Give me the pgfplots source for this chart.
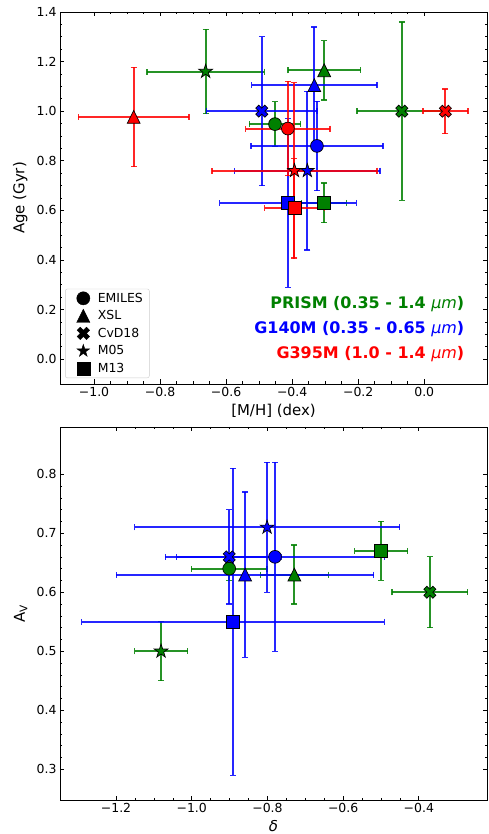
\documentclass[border=0pt]{standalone}
\usepackage{fontspec}
\setmainfont{DejaVu Sans}
\usepackage{pgfplots}
\pgfplotsset{compat=1.18}
\usetikzlibrary{plotmarks}

\definecolor{mgreen}{RGB}{0,128,0}
\definecolor{mblue}{RGB}{0,0,255}
\definecolor{mred}{RGB}{255,0,0}

% filled 5-point star
\pgfdeclareplotmark{fstar}{%
  \pgfpathmoveto{\pgfpointpolar{90}{\pgfplotmarksize}}%
  \pgfpathlineto{\pgfpointpolar{126}{0.382\pgfplotmarksize}}%
  \pgfpathlineto{\pgfpointpolar{162}{\pgfplotmarksize}}%
  \pgfpathlineto{\pgfpointpolar{198}{0.382\pgfplotmarksize}}%
  \pgfpathlineto{\pgfpointpolar{234}{\pgfplotmarksize}}%
  \pgfpathlineto{\pgfpointpolar{270}{0.382\pgfplotmarksize}}%
  \pgfpathlineto{\pgfpointpolar{306}{\pgfplotmarksize}}%
  \pgfpathlineto{\pgfpointpolar{342}{0.382\pgfplotmarksize}}%
  \pgfpathlineto{\pgfpointpolar{18}{\pgfplotmarksize}}%
  \pgfpathlineto{\pgfpointpolar{54}{0.382\pgfplotmarksize}}%
  \pgfpathclose
  \pgfusepathqfillstroke}
% filled X
\pgfdeclareplotmark{fX}{%
  \pgftransformrotate{45}%
  \pgfpathmoveto{\pgfpoint{0.333\pgfplotmarksize}{\pgfplotmarksize}}%
  \pgfpathlineto{\pgfpoint{-0.333\pgfplotmarksize}{\pgfplotmarksize}}%
  \pgfpathlineto{\pgfpoint{-0.333\pgfplotmarksize}{0.333\pgfplotmarksize}}%
  \pgfpathlineto{\pgfpoint{-\pgfplotmarksize}{0.333\pgfplotmarksize}}%
  \pgfpathlineto{\pgfpoint{-\pgfplotmarksize}{-0.333\pgfplotmarksize}}%
  \pgfpathlineto{\pgfpoint{-0.333\pgfplotmarksize}{-0.333\pgfplotmarksize}}%
  \pgfpathlineto{\pgfpoint{-0.333\pgfplotmarksize}{-\pgfplotmarksize}}%
  \pgfpathlineto{\pgfpoint{0.333\pgfplotmarksize}{-\pgfplotmarksize}}%
  \pgfpathlineto{\pgfpoint{0.333\pgfplotmarksize}{-0.333\pgfplotmarksize}}%
  \pgfpathlineto{\pgfpoint{\pgfplotmarksize}{-0.333\pgfplotmarksize}}%
  \pgfpathlineto{\pgfpoint{\pgfplotmarksize}{0.333\pgfplotmarksize}}%
  \pgfpathlineto{\pgfpoint{0.333\pgfplotmarksize}{0.333\pgfplotmarksize}}%
  \pgfpathclose
  \pgfusepathqfillstroke}
% filled triangle (matplotlib-like, bbox centred)
\pgfdeclareplotmark{ftri}{%
  \pgfpathmoveto{\pgfpoint{0pt}{\pgfplotmarksize}}%
  \pgfpathlineto{\pgfpoint{-\pgfplotmarksize}{-\pgfplotmarksize}}%
  \pgfpathlineto{\pgfpoint{\pgfplotmarksize}{-\pgfplotmarksize}}%
  \pgfpathclose
  \pgfusepathqfillstroke}

\pgfplotsset{
  set layers, mark layer=axis foreground,
  myaxis/.style={
    scale only axis,
    axis line style={line width=0.9bp},
    tick align=inside,
    major tick length=4.5bp, minor tick length=2.5bp,
    every tick/.style={black, line width=0.8bp},
    every minor tick/.append style={line width=0.6bp},
    tick label style={font=\fontsize{12.5}{15}\selectfont},
    label style={font=\fontsize{15}{18}\selectfont},
  },
  pt/.style 2 args={
    only marks, mark=#2, color=#1, line width=2bp,
    mark options={draw=black, fill=#1, line width=0.7bp, solid},
    mark size=6.4bp,
    error bars/x dir=both, error bars/x explicit,
    error bars/y dir=both, error bars/y explicit,
    error bars/error bar style={draw=#1, line width=2bp, draw opacity=0.85},
    error bars/error mark options={draw=#1, line width=1.3bp, mark size=3bp, rotate=90, draw opacity=0.85},
  },
  lg/.style={only marks, mark=#1, black, mark size=6.6bp, mark options={draw=black, fill=black},
    legend image code/.code={\path[draw=none] (0bp,0bp) (26bp,0bp); \draw[##1, draw=none] plot coordinates {(13bp,0bp)};}},
}

\begin{document}
\begin{tikzpicture}
% ---------------- top panel ----------------
\begin{axis}[myaxis,
  at={(0,0)}, anchor=south west,
  width=427bp, height=372bp,
  xmin=-1.103, xmax=0.19, ymin=-0.1, ymax=1.4,
  xtick={-1,-0.8,-0.6,-0.4,-0.2,0},
  xticklabels={−1.0,−0.8,−0.6,−0.4,−0.2,0.0},
  ytick={0,0.2,0.4,0.6,0.8,1.0,1.2,1.4},
  yticklabels={0.0,0.2,0.4,0.6,0.8,1.0,1.2,1.4},
  minor x tick num=3, minor y tick num=3,
  xlabel={[M/H] (dex)}, ylabel={Age (Gyr)},
  xlabel style={at={(axis description cs:0.5,-0.045)}, anchor=north},
  ylabel style={at={(axis description cs:-0.068,0.5)}, anchor=south},
  legend cell align=left,
  legend style={at={(axis description cs:0.012,0.016)}, anchor=south west,
    draw=black!20, rounded corners=2bp, fill=white,
    inner xsep=5bp, inner ysep=2.5bp, row sep=3.8bp,
    nodes={inner sep=1.5bp},
    /tikz/every even column/.style={column sep=12bp},
    font=\fontsize{12.5}{15}\selectfont},
]
\addlegendimage{lg=*}\addlegendentry{EMILES}
\addlegendimage{lg=ftri}\addlegendentry{XSL}
\addlegendimage{lg=fX}\addlegendentry{CvD18}
\addlegendimage{lg=fstar}\addlegendentry{M05}
\addlegendimage{lg=square*}\addlegendentry{M13}

% PRISM (green)
\addplot[forget plot, pt={mgreen}{*}] coordinates {(-0.452,0.948) +- (0.078,0.09)};
\addplot[forget plot, pt={mgreen}{ftri}] coordinates {(-0.303,1.165) +- (0.11,0.12)};
\addplot[forget plot, pt={mgreen}{fX}] coordinates {(-0.068,1.0) +- (0.136,0.36)};
\addplot[forget plot, pt={mgreen}{fstar}, mark size=7.2bp] coordinates {(-0.662,1.16) +- (0.178,0.17)};
\addplot[forget plot, pt={mgreen}{square*}] coordinates {(-0.304,0.63) +- (0.068,0.08)};
% G140M (blue)
\addplot[forget plot, pt={mblue}{*}] coordinates {(-0.325,0.86) +- (0.2,0.18)};
\addplot[forget plot, pt={mblue}{ftri}] coordinates {(-0.333,1.105) +- (0.19,0.235)};
\addplot[forget plot, pt={mblue}{fX}] coordinates {(-0.492,1.0) +- (0.167,0.3)};
\addplot[forget plot, pt={mblue}{fstar}, mark size=7.2bp] coordinates {(-0.354,0.76) +- (0.22,0.32)};
\addplot[forget plot, pt={mblue}{square*}] coordinates {(-0.413,0.63) +- (0.207,0.34)};
% G395M (red)
\addplot[forget plot, pt={mred}{*}] coordinates {(-0.413,0.93) +- (0.128,0.19)};
\addplot[forget plot, pt={mred}{ftri}] coordinates {(-0.88,0.977) +- (0.168,0.2)};
\addplot[forget plot, pt={mred}{fX}] coordinates {(0.064,1.0) +- (0.068,0.09)};
\addplot[forget plot, pt={mred}{fstar}, mark size=7.2bp] coordinates {(-0.393,0.76) +- (0.25,0.355)};
\addplot[forget plot, pt={mred}{square*}] coordinates {(-0.393,0.61) +- (0.09,0.2)};

\node[anchor=east, text=mgreen, font=\fontsize{16}{19}\selectfont\bfseries] at (axis description cs:0.955,0.215) {PRISM (0.35 - 1.4 {\fontseries{m}\itshape μm})};
\node[anchor=east, text=mblue, font=\fontsize{16}{19}\selectfont\bfseries] at (axis description cs:0.955,0.148) {G140M (0.35 - 0.65 {\fontseries{m}\itshape μm})};
\node[anchor=east, text=mred, font=\fontsize{16}{19}\selectfont\bfseries] at (axis description cs:0.955,0.081) {G395M (1.0 - 1.4 {\fontseries{m}\itshape μm})};
\end{axis}

% ---------------- bottom panel ----------------
\begin{axis}[myaxis,
  at={(0,-416bp)}, anchor=south west,
  width=427bp, height=373bp,
  xmin=-1.348, xmax=-0.22, ymin=0.248, ymax=0.88,
  xtick={-1.2,-1.0,-0.8,-0.6,-0.4},
  xticklabels={−1.2,−1.0,−0.8,−0.6,−0.4},
  ytick={0.3,0.4,0.5,0.6,0.7,0.8},
  yticklabels={0.3,0.4,0.5,0.6,0.7,0.8},
  minor x tick num=3, minor y tick num=4,
  xlabel={\itshape δ}, ylabel={A\textsubscript{V}},
  xlabel style={at={(axis description cs:0.5,-0.045)}, anchor=north},
  ylabel style={at={(axis description cs:-0.068,0.5)}, anchor=south},
]
% PRISM (green)
\addplot[pt={mgreen}{*}] coordinates {(-0.901,0.64) +- (0.1,0.02)};
\addplot[pt={mgreen}{ftri}] coordinates {(-0.729,0.63) +- (0.09,0.05)};
\addplot[pt={mgreen}{fX}] coordinates {(-0.371,0.60) +- (0.1,0.06)};
\addplot[pt={mgreen}{fstar}, mark size=7.2bp] coordinates {(-1.081,0.50) +- (0.07,0.05)};
\addplot[pt={mgreen}{square*}] coordinates {(-0.50,0.67) +- (0.07,0.05)};
% G140M (blue)
\addplot[pt={mblue}{*}] coordinates {(-0.780,0.66) +- (0.29,0.16)};
\addplot[pt={mblue}{ftri}] coordinates {(-0.859,0.63) +- (0.34,0.14)};
\addplot[pt={mblue}{fX}] coordinates {(-0.901,0.66) +- (0.139,0.08)};
\addplot[pt={mblue}{fstar}, mark size=7.2bp] coordinates {(-0.801,0.71) +- (0.35,0.11)};
\addplot[pt={mblue}{square*}] coordinates {(-0.891,0.55) +- (0.4,0.26)};
\end{axis}
\pgfresetboundingbox
\path[use as bounding box] (-60bp,-450bp) rectangle (429bp,384bp);
\end{tikzpicture}
\end{document}
